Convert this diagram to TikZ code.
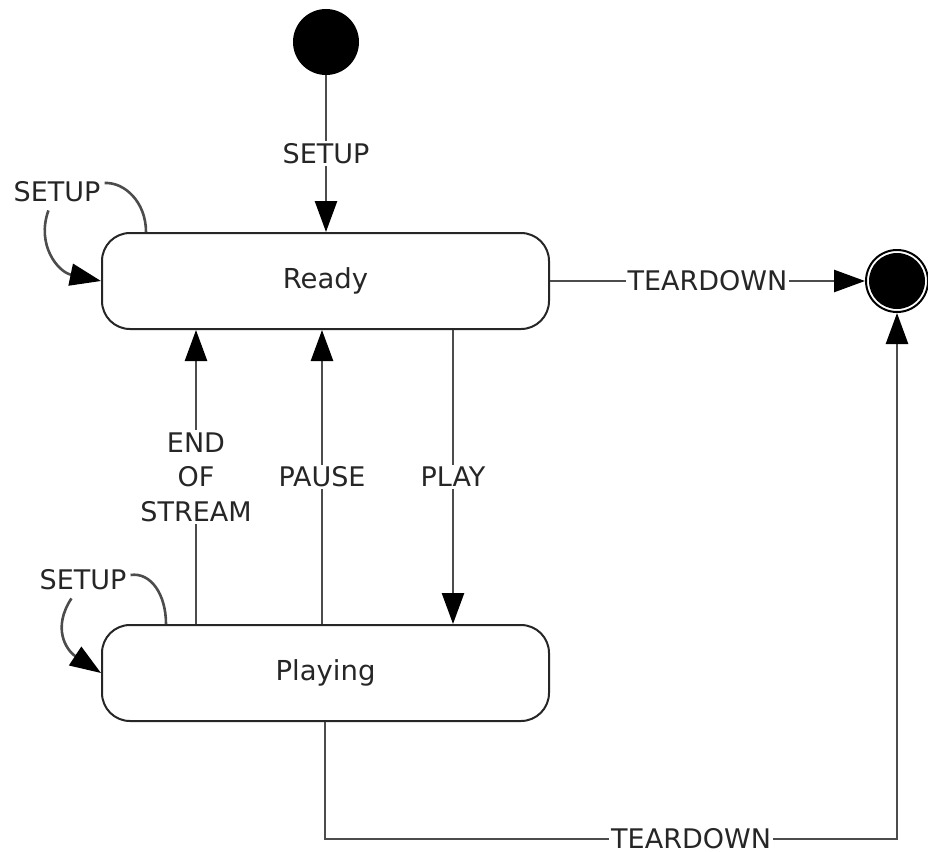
\documentclass[tikz,border=0pt]{standalone}
\usepackage{fontspec}
\setmainfont{DejaVu Sans}
\usetikzlibrary{arrows.meta,calc}
\begin{document}
\begin{tikzpicture}[x=1pt,y=-1pt,
  state/.style={draw=black!85, line width=2pt, rounded corners=28pt, minimum width=447pt, minimum height=96pt, font=\fontsize{27.5}{32}\selectfont, text=black!85, inner sep=0pt},
  conn/.style={draw=black!70, line width=2.6pt},
  arr/.style={conn, -{Triangle[length=31pt,width=22pt,color=black]}},
  lbl/.style={fill=white, inner sep=2pt, font=\fontsize{27}{34.5}\selectfont, text=black!85},
  lbln/.style={inner sep=2pt, font=\fontsize{27}{34.5}\selectfont, text=black!85},
]
\useasboundingbox (0,0) rectangle (928,851);
\node[state] (ready) at (325.5,281) {Ready};
\node[state] (playing) at (325.5,673) {Playing};
\node[circle, fill=black, minimum size=66pt, inner sep=0pt] (init) at (326,42) {};
\node[circle, draw=black, line width=2pt, minimum size=62pt, inner sep=0pt] (final) at (897,281) {};
\fill[black] (final.center) circle (28pt);

% initial
\draw[arr] (init) -- node[lbl]{SETUP} (init |- ready.north);
% teardown right
\draw[arr] (ready.east) -- node[lbl]{TEARDOWN} (final.west);
% verticals
\draw[arr] ($(playing.north west)+(95,0)$) -- node[lbl, align=center]{END\\OF\\STREAM} ($(ready.south west)+(95,0)$);
\draw[arr] ($(playing.north west)+(221,0)$) -- node[lbl]{PAUSE} ($(ready.south west)+(221,0)$);
\draw[arr] ($(ready.south west)+(352,0)$) -- node[lbl]{PLAY} ($(playing.north west)+(352,0)$);
% bottom teardown
\coordinate (b1) at ($(playing.south west)+(224,117)$);
\coordinate (b2) at (final |- b1);
\draw[arr] ($(playing.south west)+(224,0)$) -- (b1) -- node[lbl,pos=0.64]{TEARDOWN} (b2) -- (final.south);
% ready self loop
\node[lbln] (rsetup) at (57,192) {SETUP};
\coordinate (rl1) at ($(ready.north west)+(45,0)$);
\draw[conn] (rl1) .. controls ($(rl1)+(0,-30)$) and ($(rsetup.east)+(22,-10)$) .. ($(rsetup.east)+(2,-9)$);
\draw[arr] ($(rsetup.south west)+(37,6)$) .. controls (36,245) and (58,272) .. (ready.west);
% playing self loop
\node[lbln] (psetup) at (83,580) {SETUP};
\coordinate (pl1) at ($(playing.north west)+(65,0)$);
\draw[conn] (pl1) .. controls ($(pl1)+(0,-30)$) and ($(psetup.east)+(22,-8)$) .. ($(psetup.east)+(2,-5)$);
\draw[arr] ($(psetup.south west)+(34,6)$) .. controls (52,628) and (66,650) .. (playing.west);
\end{tikzpicture}
\end{document}
